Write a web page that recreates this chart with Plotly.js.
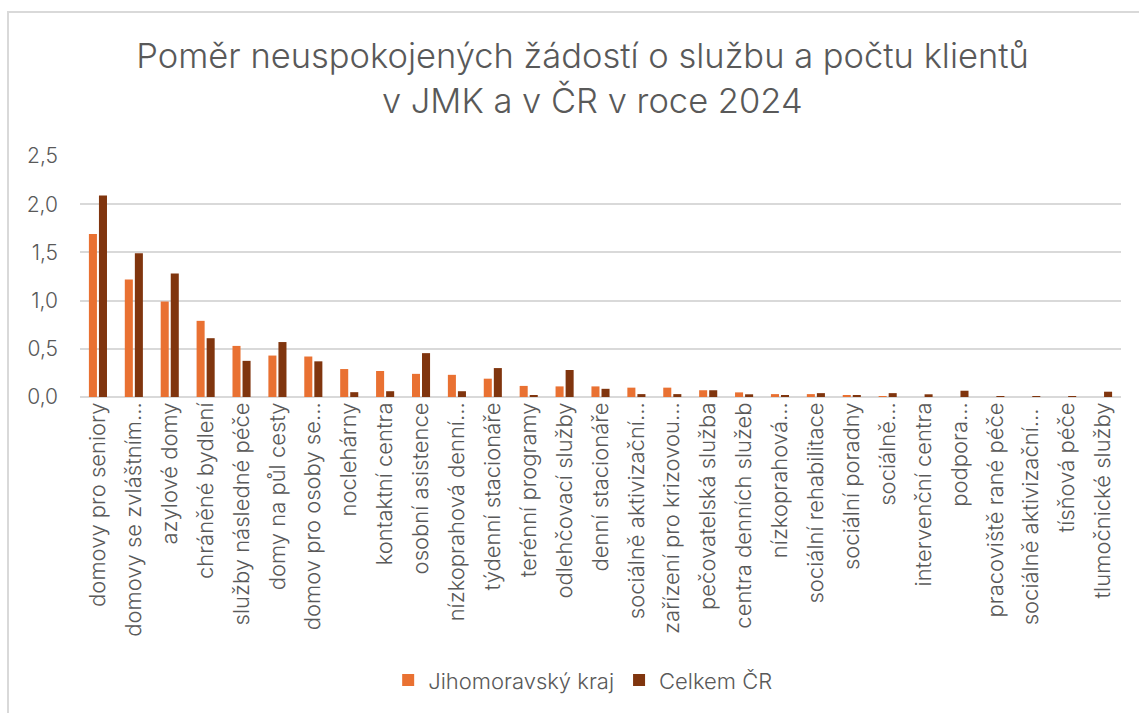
<!DOCTYPE html>
<html>
<head>
<meta charset="utf-8">
<script src="https://cdn.plot.ly/plotly-3.0.1.min.js"></script>
<style>
  html, body { margin: 0; padding: 0; background: #ffffff; overflow: hidden; }
  #wrap { position: relative; width: 1139px; height: 713px; }
  #chart { width: 1139px; height: 713px; }
  #frame { position: absolute; left: 7px; top: 11px; width: 1200px; height: 800px;
           border: 2px solid #D9D9D9; pointer-events: none; box-sizing: border-box; }
</style>
</head>
<body>
<div id="wrap">
  <div id="chart"></div>
  <div id="frame"></div>
</div>
<script>
const categories = [
  "domovy pro seniory",
  "domovy se zvláštním…",
  "azylové domy",
  "chráněné bydlení",
  "služby následné péče",
  "domy na půl cesty",
  "domov pro osoby se…",
  "noclehárny",
  "kontaktní centra",
  "osobní asistence",
  "nízkoprahová denní…",
  "týdenní stacionáře",
  "terénní programy",
  "odlehčovací služby",
  "denní stacionáře",
  "sociálně aktivizační…",
  "zařízení pro krizovou…",
  "pečovatelská služba",
  "centra denních služeb",
  "nízkoprahová…",
  "sociální rehabilitace",
  "sociální poradny",
  "sociálně…",
  "intervenční centra",
  "podpora…",
  "pracoviště rané péče",
  "sociálně aktivizační… ",
  "tísňová péče",
  "tlumočnické služby"
];

const jmkValues = [1.69, 1.22, 0.99, 0.79, 0.53, 0.43, 0.42, 0.29, 0.27, 0.24,
                   0.23, 0.19, 0.115, 0.11, 0.11, 0.097, 0.097, 0.07, 0.048, 0.03,
                   0.03, 0.012, 0.005, 0, 0, 0, 0, 0, 0];

const crValues = [2.09, 1.49, 1.28, 0.61, 0.375, 0.57, 0.37, 0.05, 0.06, 0.455,
                  0.06, 0.30, 0.02, 0.28, 0.085, 0.03, 0.03, 0.07, 0.028, 0.02,
                  0.04, 0.012, 0.04, 0.028, 0.065, 0.005, 0.01, 0.005, 0.055];

const seriesNames = ["Jihomoravský kraj", "Celkem ČR"];
const yTicks = [0, 0.5, 1.0, 1.5, 2.0, 2.5];
const titleText = "Poměr neuspokojených žádostí o službu a počtu klientů&nbsp;&nbsp;<br>v JMK a v ČR v roce 2024";

const FONT = "Inter, Liberation Sans, Arial, sans-serif";
const GREY = "#595959";

const traces = [
  {
    type: "bar", name: seriesNames[0], x: categories, y: jmkValues,
    marker: { color: "#E97132" }, hoverinfo: "x+y"
  },
  {
    type: "bar", name: seriesNames[1], x: categories, y: crValues,
    marker: { color: "#80350E" }, hoverinfo: "x+y"
  }
];

const layout = {
  width: 1139, height: 713,
  paper_bgcolor: "#ffffff", plot_bgcolor: "#ffffff",
  separators: ", ",
  font: { family: FONT, color: GREY, size: 19 },
  title: {
    text: titleText,
    font: { family: FONT, size: 34.5, color: GREY, weight: 300 },
    x: 0.52, xanchor: "center", xref: "container",
    y: 0.905, yanchor: "top", yref: "container"
  },
  margin: { l: 80, r: 18, t: 156, b: 316, pad: 0 },
  barmode: "group",
  bargap: 0.44,
  bargroupgap: 0.2,
  xaxis: {
    type: "category",
    tickangle: -90,
    tickfont: { family: FONT, size: 22, color: GREY, weight: 300 },
    showgrid: false, zeroline: false,
    showline: false, ticks: "", automargin: false
  },
  yaxis: {
    range: [0, 2.5],
    tickvals: yTicks,
    tickformat: ".1f",
    tickfont: { family: FONT, size: 21, color: GREY, weight: 300 },
    showgrid: true, gridcolor: "#D9D9D9", gridwidth: 1.5,
    zeroline: true, zerolinecolor: "#D9D9D9", zerolinewidth: 2,
    showline: false, ticks: "", ticklabelstandoff: 21, automargin: false
  },
  legend: {
    orientation: "h",
    x: 0.512, xanchor: "center", xref: "container",
    y: 0.046, yanchor: "middle", yref: "container",
    font: { family: FONT, size: 22, color: GREY, weight: 300 },
    itemwidth: 30
  },
  showlegend: true
};

Plotly.newPlot("chart", traces, layout, { displayModeBar: false, responsive: false });
</script>
</body>
</html>
